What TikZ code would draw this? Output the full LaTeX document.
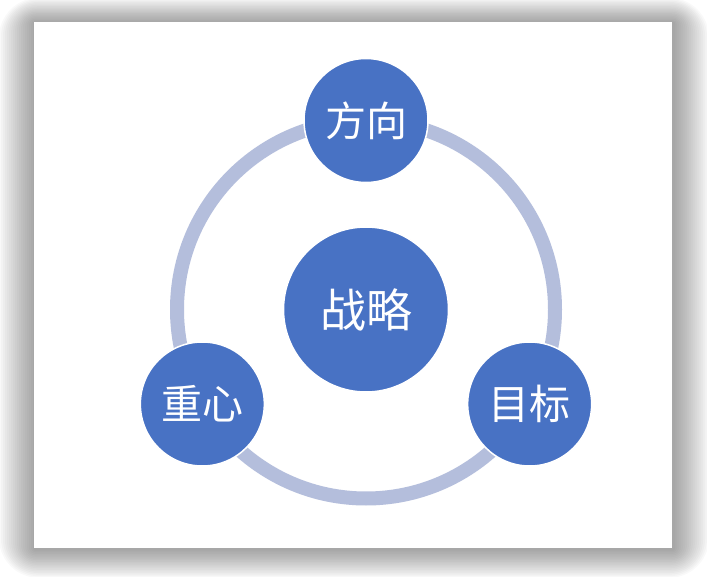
\documentclass[tikz,border=0pt]{standalone}
\usepackage{fontspec}
\newfontfamily\cjk{Noto Sans CJK SC}
\usetikzlibrary{calc}
\begin{document}
\begin{tikzpicture}[x=1pt,y=-1pt]
        %colores
        \definecolor{azul}{RGB}{72,114,196}
        \definecolor{anillo}{RGB}{180,190,220}
        \tikzset{
            bola/.style={circle,fill=azul,draw=white,line width=1.5pt,minimum size=124pt,inner sep=0pt,text=white,font=\cjk\fontsize{41}{41}\selectfont},
            bolagrande/.style={bola,minimum size=165pt,font=\cjk\fontsize{46}{46}\selectfont}
        }
        \useasboundingbox (0,0) rectangle (707,577);

        % sombra y fondo
        \foreach \s in {1,...,18}
            \fill[black,opacity=0.022,rounded corners=2.2*\s] (35-2*\s,23-1.4*\s) rectangle (673+2*\s,549+1.6*\s);
        \fill[white] (34,22) rectangle (672,548);

        % anillo
        \coordinate (centro) at (366,309.5);
        \draw[anillo,line width=14pt] (centro) circle (189);

        % circulos
        \node[bolagrande] (estrategia) at (centro) {战略};
        \foreach \ang/\nombre/\texto in {270/direccion/方向, 150/enfoque/重心, 30/objetivo/目标}
            \node[bola] (\nombre) at ($(centro)+(\ang:189)$) {\texto};
\end{tikzpicture}
\end{document}
